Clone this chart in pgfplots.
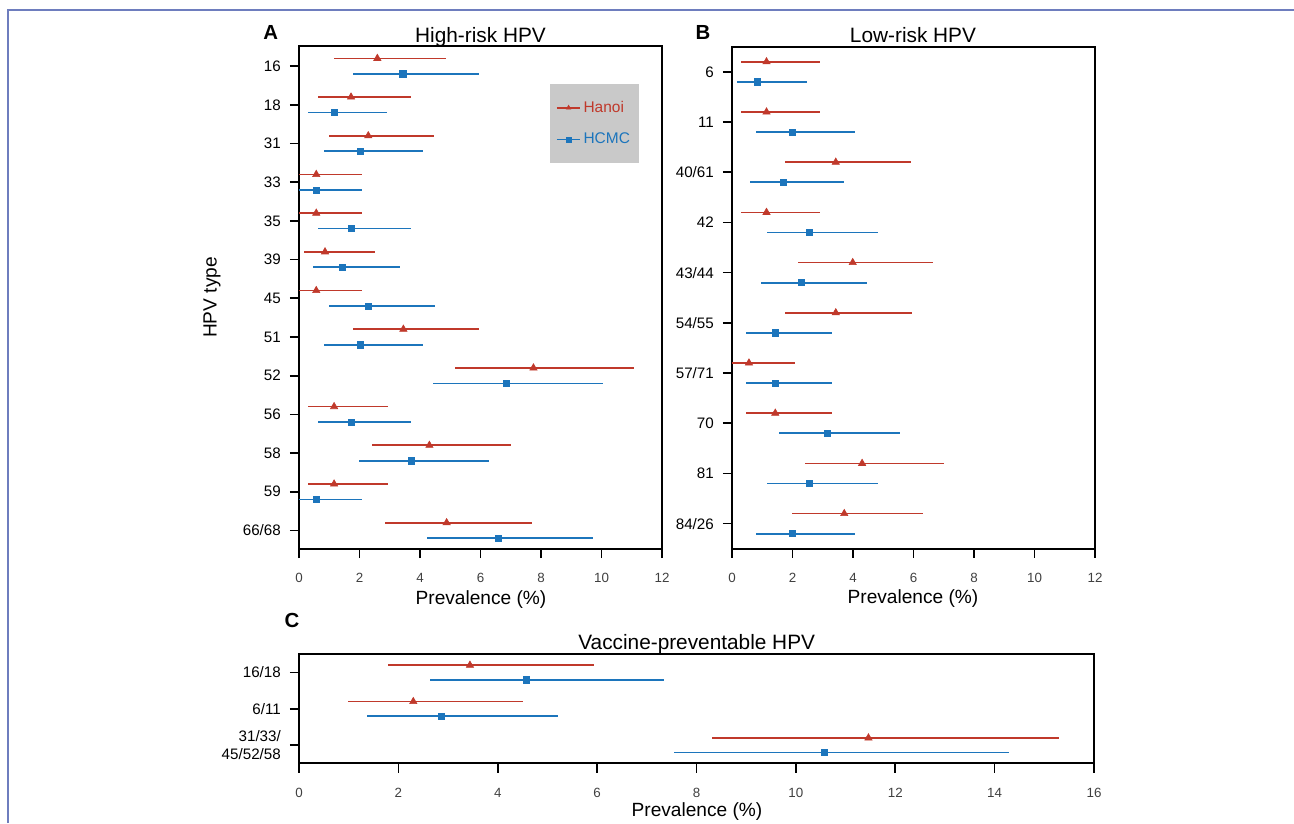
\documentclass[border=0pt]{standalone}
\usepackage{fontspec}
\setmainfont{Liberation Sans}
\usepackage{pgfplots}
\pgfplotsset{compat=1.18}
\usepackage{pgfplotstable}

\definecolor{hanoi}{RGB}{192,57,43}
\definecolor{hcmc}{RGB}{28,117,188}
\definecolor{frameblue}{RGB}{110,125,190}
\definecolor{leggray}{RGB}{201,201,201}

% prevalence (%) with 95% CI, Hanoi (h) and HCMC (c)
\pgfplotstableread{
idx hp hlo hhi cp clo chi
0  2.59 1.17 4.85  3.43 1.77 5.94
1  1.72 0.62 3.71  1.16 0.31 2.92
2  2.29 1.00 4.47  2.02 0.82 4.10
3  0.57 0.00 2.07  0.57 0.00 2.07
4  0.57 0.00 2.07  1.72 0.63 3.69
5  0.86 0.18 2.50  1.43 0.46 3.33
6  0.57 0.00 2.07  2.29 0.99 4.48
7  3.45 1.77 5.96  2.02 0.82 4.10
8  7.75 5.15 11.07 6.86 4.44 10.04
9  1.16 0.31 2.93  1.72 0.63 3.69
10 4.31 2.42 7.01  3.72 1.98 6.29
11 1.16 0.31 2.93  0.57 0.00 2.07
12 4.88 2.84 7.70  6.59 4.22 9.72
}\highrisk

\pgfplotstableread{
idx hp hlo hhi cp clo chi
0 1.14 0.29 2.90  0.84 0.16 2.49
1 1.14 0.29 2.90  1.99 0.80 4.08
2 3.43 1.76 5.93  1.70 0.60 3.70
3 1.14 0.29 2.90  2.56 1.16 4.84
4 3.99 2.19 6.63  2.28 0.97 4.46
5 3.43 1.76 5.95  1.43 0.45 3.32
6 0.56 0.00 2.07  1.43 0.45 3.32
7 1.43 0.45 3.32  3.14 1.56 5.55
8 4.30 2.40 7.00  2.56 1.16 4.84
9 3.71 1.99 6.30  1.99 0.80 4.08
}\lowrisk

\pgfplotstableread{
idx hp hlo hhi cp clo chi
0 3.44 1.79 5.94   4.58 2.64 7.34
1 2.30 0.99 4.50   2.86 1.37 5.22
2 11.46 8.31 15.29 10.57 7.54 14.29
}\vaccine

\pgfplotsset{
  panel/.style={
    scale only axis, anchor=north west,
    axis line style={line width=1.3pt},
    tick align=outside, xtick pos=left, ytick pos=left,
    major tick length=2.3mm,
    tick style={black, line width=1.2pt},
    y dir=reverse, xmin=0,
    /pgf/number format/assume math mode=true,
    xticklabel style={font=\fontsize{9.5}{11}\selectfont, text=black!75},
    yticklabel style={font=\fontsize{10.8}{12.8}\selectfont, align=right},
    xticklabel shift=2.6mm, yticklabel shift=1mm,
  },
  hanoiplot/.style={hanoi, only marks, mark=triangle*, mark size=3pt,
    error bars/.cd, x dir=both, x explicit, error mark=none,
    error bar style={line width=1.2pt}},
  hcmcplot/.style={hcmc, only marks, mark=square*, mark size=2.2pt,
    error bars/.cd, x dir=both, x explicit, error mark=none,
    error bar style={line width=1.2pt}},
}
\newcommand{\hanoirows}[1]{\addplot[hanoiplot] table[x=hp, y expr=\thisrow{idx}-0.2,
    x error plus expr=\thisrow{hhi}-\thisrow{hp}, x error minus expr=\thisrow{hp}-\thisrow{hlo}] {#1};}
\newcommand{\hcmcrows}[1]{\addplot[hcmcplot] table[x=cp, y expr=\thisrow{idx}+0.2,
    x error plus expr=\thisrow{chi}-\thisrow{cp}, x error minus expr=\thisrow{cp}-\thisrow{clo}] {#1};}

\begin{document}
% one unit = one pixel of the 1294x823 reference
\begin{tikzpicture}[x=0.25mm, y=0.25mm]
\useasboundingbox (0,0) rectangle (1294,-823);

% A
\begin{axis}[panel, at={(74.75mm,-11.5mm)}, width=90.75mm, height=125.75mm,
  xmax=12, xtick={0,2,...,12},
  ymin=-0.52, ymax=12.48, ytick={0,...,12},
  yticklabels={16,18,31,33,35,39,45,51,52,56,58,59,66/68},
  legend style={at={(0.814,0.846)}, anchor=center, fill=leggray, draw=none,
    font=\fontsize{11}{13}\selectfont, inner xsep=1.5mm, inner ysep=3.6mm, row sep=3.2mm},
  legend cell align=left,
  legend image code/.code={
    \draw[#1, mark=none, line width=1.1pt] (0mm,0mm) -- (5.75mm,0mm);
    \draw[#1, only marks, mark size=1.8pt] plot coordinates {(2.9mm,0mm)};},
]
\hanoirows{\highrisk}
\hcmcrows{\highrisk}
\legend{\textcolor{hanoi}{Hanoi}, \textcolor{hcmc}{HCMC}}
\end{axis}

% B
\begin{axis}[panel, at={(183mm,-11.675mm)}, width=90.75mm, height=125.5mm,
  xmax=12, xtick={0,2,...,12},
  ymin=-0.5, ymax=9.5, ytick={0,...,9},
  yticklabels={6,11,40/61,42,43/44,54/55,57/71,70,81,84/26},
]
\hanoirows{\lowrisk}
\hcmcrows{\lowrisk}
\end{axis}

% C
\begin{axis}[panel, at={(74.75mm,-163.575mm)}, width=198.75mm, height=27.25mm,
  xmax=16, xtick={0,2,...,16},
  ymin=-0.5, ymax=2.5, ytick={0,1,2},
  yticklabels={16/18,6/11,{31/33/\\45/52/58}},
]
\hanoirows{\vaccine}
\hcmcrows{\vaccine}
\end{axis}

\draw[frameblue, line width=0.45mm] (8,-823) -- (8,-10) -- (1294,-10);

\begin{scope}[every node/.style={anchor=base, inner sep=0pt}]
\node[font=\fontsize{14.5}{16}\selectfont\bfseries] at (270.7,-39.3) {A};
\node[font=\fontsize{14.5}{16}\selectfont\bfseries] at (703,-39) {B};
\node[font=\fontsize{14.5}{16}\selectfont\bfseries] at (292,-627) {C};
\node[font=\fontsize{14.8}{17}\selectfont] at (480.5,-42.3) {High-risk HPV};
\node[font=\fontsize{14.8}{17}\selectfont] at (913,-42.3) {Low-risk HPV};
\node[font=\fontsize{14.8}{17}\selectfont] at (696.7,-649.5) {Vaccine-preventable HPV};
\node[font=\fontsize{13.6}{16}\selectfont] at (481,-604) {Prevalence (\%)};
\node[font=\fontsize{13.6}{16}\selectfont] at (913,-603) {Prevalence (\%)};
\node[font=\fontsize{13.6}{16}\selectfont] at (697,-816) {Prevalence (\%)};
\node[font=\fontsize{13.6}{16}\selectfont, rotate=90] at (216.7,-297.5) {HPV type};
\end{scope}
\end{tikzpicture}
\end{document}
